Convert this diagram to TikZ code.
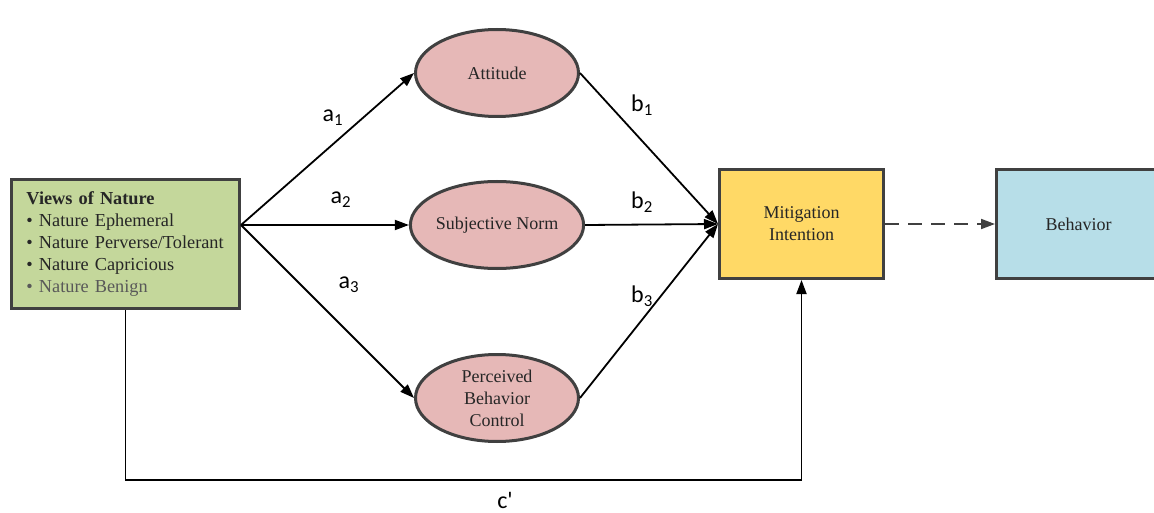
\documentclass[tikz,border=0pt]{standalone}
\usepackage{fontspec}
\setmainfont{Liberation Serif}
\newfontfamily\labelfont{Carlito}
\usetikzlibrary{arrows.meta,shapes.geometric}

\definecolor{edgegray}{HTML}{404040}
\definecolor{txtgray}{HTML}{262626}
\definecolor{lightgray}{HTML}{595959}
\definecolor{greenfill}{HTML}{C4D79B}
\definecolor{pinkfill}{HTML}{E6B8B7}
\definecolor{yellowfill}{HTML}{FFD966}
\definecolor{bluefill}{HTML}{B7DEE8}

\tikzset{
  box/.style={rectangle, draw=edgegray, line width=3pt, inner sep=0pt,
    text=txtgray, align=center, font=\rmfamily\fontsize{18}{22}\selectfont},
  latent/.style={ellipse, draw=edgegray, line width=3pt, fill=pinkfill,
    minimum width=163pt, minimum height=87pt, inner sep=0pt, align=center,
    text=txtgray, font=\rmfamily\fontsize{18}{22}\selectfont},
  effect/.style={line width=1.8pt, -{Triangle[length=14pt,width=10pt]}},
  coef/.style={font=\labelfont\fontsize{24}{26}\selectfont, inner sep=0pt}
}

\begin{document}
\begin{tikzpicture}[x=1pt,y=-1pt]
  \fill[white] (0,0) rectangle (1154,513);
  \useasboundingbox (0,0) rectangle (1154,513);

  % predictor
  \node[box, fill=greenfill, minimum width=228pt, minimum height=129pt,
        align=left, text width=198pt,
        font=\rmfamily\fontsize{18.3}{21.8}\selectfont] (views) at (125.5,244)
    {\textbf{Views of Nature}\\
     \textbullet\ Nature Ephemeral\\
     \textbullet\ Nature Perverse/Tolerant\\
     \textbullet\ Nature Capricious\\
     \textcolor{lightgray}{\textbullet\ Nature Benign}};

  % mediators
  \node[latent] (att) at (497,73) {Attitude};
  \node[latent] (sn)  at (497,225) {Subjective Norm};
  \node[latent] (pbc) at (497,398) {Perceived\\Behavior\\Control};

  % outcomes
  \node[box, fill=yellowfill, minimum width=164pt, minimum height=109pt]
    (mit) at (801.5,224) {Mitigation\\Intention};
  \node[box, fill=bluefill, minimum width=164pt, minimum height=109pt]
    (beh) at (1078.5,224) {Behavior};

  % a paths
  \coordinate (src) at (views.east |- sn.west);
  \draw[effect] (src) -- (att.west);
  \draw[effect] (src) -- (sn.west);
  \draw[effect] (src) -- (pbc.west);

  % b paths
  \draw[effect] (att.east) -- (mit.west);
  \draw[effect] (sn.east) -- (mit.west);
  \draw[effect] (pbc.east) -- (mit.west);

  % direct path c'
  \coordinate (cbend) at (460,480);
  \draw[effect] (views.south) |- (cbend) -| (mit.south);

  % intention to behavior
  \draw[line width=1.8pt, edgegray, dash pattern=on 14pt off 9pt,
        -{Triangle[length=14pt,width=10pt]}] (mit.east) -- (beh.west);

  % coefficient labels
  \node[coef] (la1) at (333,118) {a\textsubscript{1}};
  \node[coef] (la2) at (341,200) {a\textsubscript{2}};
  \node[coef] (la3) at (349,285) {a\textsubscript{3}};
  \node[coef] (lb1) at (642,105) {b\textsubscript{1}};
  \node[coef] (lb2) at (642,202) {b\textsubscript{2}};
  \node[coef] (lb3) at (642,296) {b\textsubscript{3}};
  \node[coef] (lc)  at (505,500) {c'};
\end{tikzpicture}
\end{document}
